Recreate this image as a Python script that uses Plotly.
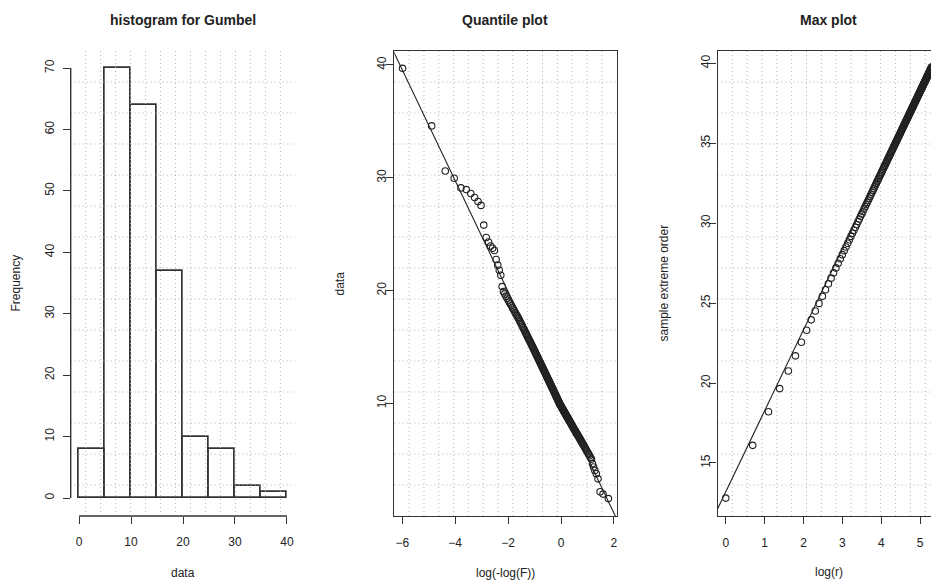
import numpy as np
import plotly.graph_objects as go

# ---------------- data ----------------
hist_edges = [0, 5, 10, 15, 20, 25, 30, 35, 40]
hist_counts = [8, 70, 64, 37, 10, 8, 2, 1]

# sorted sample (ascending)
gumbel_sorted = [
    1.55, 1.95, 2.15, 3.30, 3.75, 4.05, 4.35, 4.65,
    5.05, 5.20, 5.34, 5.47, 5.59, 5.71, 5.82, 5.93, 6.03, 6.13, 6.23,
    6.32, 6.41, 6.49, 6.57, 6.65, 6.73, 6.81, 6.89, 6.96, 7.03,
    7.10, 7.17, 7.24, 7.31, 7.38, 7.44, 7.51, 7.58, 7.64, 7.70,
    7.77, 7.83, 7.89,
    7.95, 8.01, 8.08, 8.14, 8.20, 8.26, 8.32, 8.38, 8.44, 8.50,
    8.55, 8.61, 8.67, 8.73, 8.79, 8.84, 8.90, 8.96, 9.02, 9.07,
    9.13, 9.19, 9.24, 9.30, 9.35, 9.41, 9.47, 9.52, 9.58, 9.63,
    9.69, 9.75,
    9.80, 9.85, 9.90, 9.95,
    10.05, 10.12, 10.19, 10.25, 10.32, 10.39, 10.46, 10.53, 10.59, 10.66,
    10.73, 10.80, 10.87, 10.94, 11.01, 11.08, 11.15, 11.22, 11.29, 11.36,
    11.43, 11.50, 11.57, 11.65, 11.72, 11.79, 11.86, 11.94, 12.01, 12.08,
    12.16,
    12.23, 12.31, 12.38, 12.46, 12.53, 12.61, 12.69, 12.77, 12.84, 12.92,
    13.00, 13.08, 13.16, 13.24, 13.33, 13.41, 13.49, 13.58, 13.66,
    13.75, 13.83, 13.92, 14.01, 14.10, 14.19, 14.28, 14.37, 14.47, 14.56,
    14.66, 14.75, 14.85, 14.95,
    15.05, 15.15, 15.25, 15.35, 15.45, 15.56, 15.66, 15.77, 15.88, 15.99,
    16.11, 16.22, 16.34, 16.46, 16.58, 16.70, 16.83, 16.96, 17.09, 17.23,
    17.37,
    17.51, 17.64, 17.77, 17.90, 18.04, 18.19, 18.33, 18.48, 18.64, 18.80,
    18.97, 19.14, 19.32, 19.50, 19.70, 19.90,
    20.35, 21.35, 21.80, 22.25, 22.75, 23.55, 23.75, 23.95, 24.30, 24.70,
    25.80, 27.55, 27.90, 28.25, 28.60, 28.95, 29.10, 29.95, 30.60, 34.60,
    39.70,
]

# "sample extreme order" for r = 1..200
max_order = [
    12.80, 16.10, 18.20, 19.65, 20.75, 21.70, 22.55, 23.30, 23.95, 24.50,
    24.98, 25.42, 25.83, 26.21, 26.56, 26.89, 27.20, 27.49, 27.77, 28.03,
    28.28, 28.51, 28.74, 28.96, 29.17, 29.37, 29.56, 29.74, 29.92, 30.10,
    30.26, 30.43, 30.58, 30.73, 30.88, 31.03, 31.17, 31.30, 31.43, 31.56,
    31.69, 31.81, 31.93, 32.05, 32.16, 32.28, 32.39, 32.49, 32.60, 32.70,
    32.80, 32.90, 33.00, 33.09, 33.19, 33.28, 33.37, 33.46, 33.55, 33.63,
    33.72, 33.80, 33.88, 33.96, 34.04, 34.12, 34.19, 34.27, 34.34, 34.42,
    34.49, 34.56, 34.63, 34.70, 34.77, 34.84, 34.90, 34.97, 35.03, 35.10,
    35.16, 35.22, 35.29, 35.35, 35.41, 35.47, 35.53, 35.58, 35.64, 35.70,
    35.76, 35.81, 35.87, 35.92, 35.97, 36.03, 36.08, 36.13, 36.19, 36.24,
    36.29, 36.34, 36.39, 36.44, 36.49, 36.53, 36.58, 36.63, 36.68, 36.72,
    36.77, 36.82, 36.86, 36.91, 36.95, 36.99, 37.04, 37.08, 37.12, 37.17,
    37.21, 37.25, 37.29, 37.33, 37.38, 37.42, 37.46, 37.50, 37.54, 37.58,
    37.61, 37.65, 37.69, 37.73, 37.77, 37.81, 37.84, 37.88, 37.92, 37.95,
    37.99, 38.03, 38.06, 38.10, 38.13, 38.17, 38.20, 38.24, 38.27, 38.31,
    38.34, 38.37, 38.41, 38.44, 38.47, 38.51, 38.54, 38.57, 38.60, 38.63,
    38.67, 38.70, 38.73, 38.76, 38.79, 38.82, 38.85, 38.88, 38.91, 38.94,
    38.97, 39.00, 39.03, 39.06, 39.09, 39.12, 39.15, 39.18, 39.21, 39.23,
    39.26, 39.29, 39.32, 39.35, 39.37, 39.40, 39.43, 39.46, 39.48, 39.51,
    39.54, 39.56, 39.59, 39.62, 39.64, 39.67, 39.69, 39.72, 39.75, 39.77,
]

# fitted reference lines
q_mu, q_beta = 10.09, 4.913       # data = mu - beta * log(-log F)
m_a, m_b = 13.19, 5.07            # order = a + b * log(r)

hist_xticks = [0, 10, 20, 30, 40]
hist_yticks = [0, 10, 20, 30, 40, 50, 60, 70]
q_xticks = [-6, -4, -2, 0, 2]
q_yticks = [10, 20, 30, 40]
m_xticks = [0, 1, 2, 3, 4, 5]
m_yticks = [15, 20, 25, 30, 35, 40]

# ---------------- derived positions ----------------
n = len(gumbel_sorted)
F = (np.arange(1, n + 1) - 0.5) / n
q_x = np.log(-np.log(F))
r = np.arange(1, len(max_order) + 1)
m_x = np.log(r)

edges = np.array(hist_edges, dtype=float)
centers = (edges[:-1] + edges[1:]) / 2
widths = np.diff(edges)

# ---------------- layout geometry ----------------
W, H = 931, 583
TXT = "#222222"
AX = "#333333"
FONT = "Liberation Sans, Arial, sans-serif"
dom_y = [1 - 516 / H, 1 - 51 / H]

r1x = [-1.6, 41.6]
r1y = [-2.93, 72.77]
r2x = [-6.301, 2.101]
r2y = [0.006, 41.24]
r3x_usr = [-0.212, 5.510]
r3x = [-0.212, (931 - 725.7) / 38.9]
r3y = [11.68, 40.77]

fig = go.Figure()

fig.add_trace(go.Bar(
    x=centers, y=hist_counts, width=widths,
    marker=dict(color="rgba(0,0,0,0)", line=dict(color=AX, width=1.7)),
    xaxis="x", yaxis="y", showlegend=False, hoverinfo="skip"))

mk = dict(symbol="circle-open", size=6.5, color=TXT, line=dict(width=1.1, color=TXT))

qlx = np.array([r2x[0] - 0.5, r2x[1] + 0.5])
fig.add_trace(go.Scatter(x=qlx, y=q_mu - q_beta * qlx, mode="lines",
                         line=dict(color=TXT, width=1.1),
                         xaxis="x2", yaxis="y2", showlegend=False))
fig.add_trace(go.Scatter(x=q_x, y=gumbel_sorted, mode="markers", marker=mk,
                         xaxis="x2", yaxis="y2", showlegend=False))

mlx = np.array([r3x[0] - 0.5, r3x_usr[1] + 0.5])
fig.add_trace(go.Scatter(x=mlx, y=m_a + m_b * mlx, mode="lines",
                         line=dict(color=TXT, width=1.1),
                         xaxis="x3", yaxis="y3", showlegend=False))
fig.add_trace(go.Scatter(x=m_x, y=max_order, mode="markers", marker=mk,
                         xaxis="x3", yaxis="y3", showlegend=False))

tickfont = dict(family=FONT, size=12, color=TXT)


def xax(domain, rng, tickvals, box, mirror):
    return dict(domain=domain, range=rng, tickvals=tickvals, ticks="outside",
                ticklen=7, tickwidth=1.2, tickcolor=AX, showgrid=False,
                zeroline=False, showline=box, mirror=mirror, linecolor=AX,
                linewidth=1.4, tickfont=tickfont, ticklabelstandoff=8,
                fixedrange=True)


def yax(anchor, rng, tickvals, box, mirror, standoff):
    return dict(domain=dom_y, anchor=anchor, range=rng, tickvals=tickvals,
                ticks="outside", ticklen=7, tickwidth=1.2, tickcolor=AX,
                showgrid=False, zeroline=False, showline=box, mirror=mirror,
                linecolor=AX, linewidth=1.4, tickfont=tickfont, tickangle=-90,
                ticklabelstandoff=standoff, fixedrange=True)


x1d = [70.7 / W, 295.3 / W]
x2d = [394.3 / W, 616.6 / W]
x3d = [717.5 / W, 1.0]

fig.update_layout(
    width=W, height=H, margin=dict(l=0, r=0, t=0, b=0),
    paper_bgcolor="white", plot_bgcolor="white", showlegend=False,
    font=dict(family=FONT, color=TXT),
    xaxis=dict(xax(x1d, r1x, hist_xticks, False, False), anchor="y"),
    yaxis=yax("x", r1y, hist_yticks, False, False, 4),
    xaxis2=dict(xax(x2d, r2x, q_xticks, True, True), anchor="y2"),
    yaxis2=yax("x2", r2y, q_yticks, True, True, -5),
    xaxis3=dict(xax(x3d, r3x, m_xticks, True, True), anchor="y3"),
    yaxis3=yax("x3", r3y, m_yticks, True, False, -5),
    bargap=0,
)

shapes = []
GRID = dict(color="#b4b4b4", width=1, dash="1px,3px")


def add_grid(xn, yn, xr, yr, layer):
    for k in range(1, 15):
        xv = xr[0] + k * (xr[1] - xr[0]) / 15
        shapes.append(dict(type="line", xref=xn, yref=yn + " domain", x0=xv, x1=xv,
                           y0=0, y1=1, line=GRID, layer=layer))
        yv = yr[0] + k * (yr[1] - yr[0]) / 15
        shapes.append(dict(type="line", xref=xn + " domain", yref=yn, x0=0, x1=1,
                           y0=yv, y1=yv, line=GRID, layer=layer))


add_grid("x", "y", r1x, r1y, "above")
add_grid("x2", "y2", r2x, r2y, "below")
add_grid("x3", "y3", r3x_usr, r3y, "below")

# histogram axis lines (only over the tick range, R style)
shapes.append(dict(type="line", xref="x domain", yref="y", x0=0, x1=0,
                   y0=hist_yticks[0], y1=hist_yticks[-1], line=dict(color=AX, width=1.4)))
shapes.append(dict(type="line", xref="x", yref="y domain", x0=hist_xticks[0],
                   x1=hist_xticks[-1], y0=0, y1=0, line=dict(color=AX, width=1.4)))
fig.update_layout(shapes=shapes)

ann = []


def px_ann(text, x, y, size=12, angle=0, bold=False):
    ann.append(dict(text=("<b>%s</b>" % text) if bold else text,
                    x=x / W, y=1 - y / H, xref="paper", yref="paper",
                    xanchor="center", yanchor="middle", showarrow=False,
                    textangle=angle, font=dict(family=FONT, size=size, color=TXT)))


px_ann("histogram for Gumbel", 183, 20, 14, bold=True)
px_ann("Quantile plot", 505.5, 20, 14, bold=True)
px_ann("Max plot", 828.5, 20, 14, bold=True)
px_ann("data", 183, 573)
px_ann("log(-log(F))", 505.5, 573)
px_ann("log(r)", 828.5, 572)
px_ann("Frequency", 15, 283.5, angle=-90)
px_ann("data", 339, 283.5, angle=-90)
px_ann("sample extreme order", 663, 283.5, angle=-90)
fig.update_layout(annotations=ann)

fig.write_html("out.html")
